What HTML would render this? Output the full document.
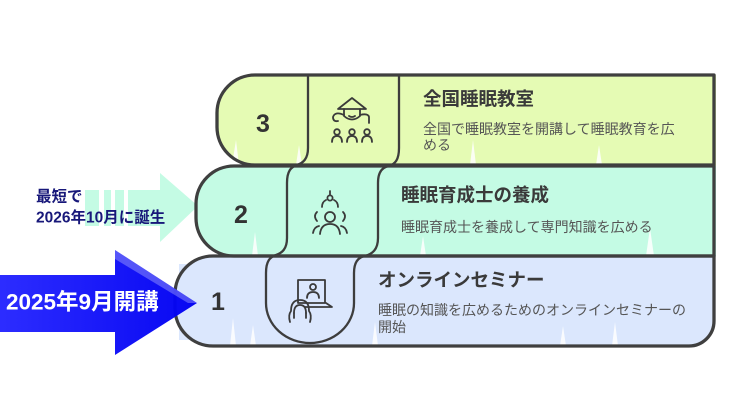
<!DOCTYPE html>
<html>
<head>
<meta charset="utf-8">
<style>
  html,body{margin:0;padding:0;background:#ffffff;}
  body{width:736px;height:414px;overflow:hidden;}
  svg{display:block;}
  .t{font-family:"Liberation Sans","Noto Sans CJK JP",sans-serif;}
</style>
</head>
<body>
<svg width="736" height="414" viewBox="0 0 736 414" xmlns="http://www.w3.org/2000/svg">
  <defs>
    <linearGradient id="bg" x1="0" y1="0" x2="1" y2="0">
      <stop offset="0" stop-color="#2626ff"/>
      <stop offset="1" stop-color="#0000f2"/>
    </linearGradient>
  </defs>

  <!-- fills -->
  <path d="M255,75 H716 V166 H255 A38,38 0 0 1 217,128 V113 A38,38 0 0 1 255,75 Z" fill="#e5fbb4"/>
  <path d="M234,166 H716 V256 H234 A38,38 0 0 1 196,218 V204 A38,38 0 0 1 234,166 Z" fill="#c4fbe4"/>
  <rect x="179" y="264" width="26" height="76" fill="#dbe7fd"/>
  <path d="M213,256 H714 V321 A25,25 0 0 1 689,346 H213 A38,38 0 0 1 175,308 V294 A38,38 0 0 1 213,256 Z" fill="#dbe7fd"/>

  <!-- sketchy white gaps -->
  <g fill="#ffffff" opacity="0.85">
    <polygon points="232,165 236,140 239,165"/>
    <polygon points="296,165 299,145 302,165"/>
    <polygon points="470,165 473,140 476,165"/>
    <polygon points="596,165 599,145 602,165"/>
    <polygon points="252,256 255,232 258,256"/>
    <polygon points="420,256 423,236 426,256"/>
    <polygon points="646,256 650,228 654,256"/>
    <polygon points="230,346 233,318 236,346"/>
    <polygon points="250,346 253,325 256,346"/>
    <polygon points="372,346 375,322 378,346"/>
    <polygon points="560,346 563,326 566,346"/>
    <polygon points="612,346 615,322 618,346"/>
  </g>

  <!-- mint arrow -->
  <g fill="#c4fbe4">
    <rect x="85" y="190" width="14" height="36"/>
    <rect x="104" y="190" width="7" height="36"/>
    <rect x="115" y="190" width="9" height="36"/>
    <rect x="128" y="190" width="34" height="36"/>
    <polygon points="160,173 198,206 160,242"/>
  </g>

  <!-- column dividers -->
  <path d="M308,76 V148 C308,159 303,163 297,165 C291,167 287,171 287,183 V238 C287,249 282,253 276,255 C270,257 266,261 266,273 V303 A44,40 0 0 0 354,303 V273 C354,261 359,257 365,256 C372,254 378,250 378,238 V183 C378,171 383,167 389,166 C395,164 399,160 399,148 V76"
        fill="none" stroke="#3d3d3d" stroke-width="2.3" stroke-linejoin="round"/>

  <!-- outlines -->
  <g fill="none" stroke="#3f3f3f" stroke-width="3.3" stroke-linejoin="round">
    <path d="M255,75 H714 V165 H255 A38,38 0 0 1 217,127 V113 A38,38 0 0 1 255,75 Z"/>
    <path d="M234,166 H714 V256 H234 A38,38 0 0 1 196,218 V204 A38,38 0 0 1 234,166 Z"/>
    <path d="M213,256 H714 V321 A25,25 0 0 1 689,346 H213 A38,38 0 0 1 175,308 V294 A38,38 0 0 1 213,256 Z"/>
  </g>

  <!-- blue arrow -->
  <polygon points="0,275 115,275 115,250 197,303 115,355 115,332 0,332" fill="url(#bg)" opacity="0.97"/>
  <polygon points="115,250 197,303 188,303 115,259" fill="#ffffff" opacity="0.28"/>

  <!-- numbers -->
  <g class="t" font-weight="bold" font-size="25" fill="#333333" text-anchor="middle" dominant-baseline="central">
    <text x="263" y="124">3</text>
    <text x="241" y="215">2</text>
    <text x="218" y="302">1</text>
  </g>

  <!-- icons -->
  <g fill="none" stroke="#3a3a3a" stroke-width="1.8" stroke-linecap="round" stroke-linejoin="round">
    <!-- icon 3 -->
    <path d="M338,109 L352,98 L366,109 Z"/>
    <path d="M344,109 V116 Q352,123 360,116 V109"/>
    <path d="M344,115 Q335,111 333,117 Q333,122 338,121"/>
    <path d="M360,115 Q368,113 369,117 V123"/>
    <path d="M349,116 Q352,118 355,116"/>
    <circle cx="337" cy="132" r="2.8"/>
    <circle cx="352" cy="132" r="2.8"/>
    <circle cx="367" cy="132" r="2.8"/>
    <path d="M332,142 Q332,136 337,136 Q342,136 342,142"/>
    <path d="M347,142 Q347,136 352,136 Q357,136 357,142"/>
    <path d="M362,142 Q362,136 367,136 Q372,136 372,142"/>
    <!-- icon 2 -->
    <path d="M330,191 V195"/>
    <circle cx="330" cy="198" r="2.6"/>
    <path d="M322,207 Q322,202 326,200"/>
    <path d="M338,207 Q338,202 334,200"/>
    <circle cx="330" cy="217" r="5"/>
    <path d="M320,234 Q321,224 330,224 Q339,224 340,234"/>
    <path d="M317,212 Q313,216 317,221"/>
    <path d="M313,233 Q314,227 319,226"/>
    <path d="M343,212 Q347,216 343,221"/>
    <path d="M347,233 Q346,227 341,226"/>
    <!-- icon 1 -->
    <rect x="298" y="280" width="27" height="23"/>
    <path d="M305,307 H332 L326,303"/>
    <circle cx="313" cy="287" r="3"/>
    <path d="M307,298 Q307,292 313,292 Q319,292 319,298"/>
    <path d="M290,322 Q288,315 291,311 Q291,300 300,300 Q309,300 309,311 Q312,315 310,322"/>
    <path d="M294,313 Q294,305 300,305 Q306,305 306,313"/>
    <path d="M294,313 V318 M306,313 V318"/>
  </g>

  <!-- block texts -->
  <g class="t" dominant-baseline="central">
    <text x="423" y="99" font-size="18.5" font-weight="bold" fill="#3a3a3a">全国睡眠教室</text>
    <text x="423" y="129" font-size="14" fill="#555555">全国で睡眠教室を開講して睡眠教育を広</text>
    <text x="423" y="145" font-size="14" fill="#555555">める</text>

    <text x="401" y="195" font-size="18.5" font-weight="bold" fill="#3a3a3a">睡眠育成士の養成</text>
    <text x="401" y="227" font-size="14" fill="#555555">睡眠育成士を養成して専門知識を広める</text>

    <text x="378" y="280" font-size="18.5" font-weight="bold" fill="#3a3a3a">オンラインセミナー</text>
    <text x="378" y="310" font-size="14" fill="#555555">睡眠の知識を広めるためのオンラインセミナーの</text>
    <text x="378" y="327" font-size="14" fill="#555555">開始</text>
  </g>

  <!-- arrow texts -->
  <g class="t" font-weight="bold" dominant-baseline="central">
    <text x="6" y="302" font-size="22.5" fill="#ffffff">2025年9月開講</text>
    <text x="36" y="197" font-size="15.5" fill="#18187a">最短で</text>
    <text x="36" y="218" font-size="15.5" fill="#18187a">2026年10月に誕生</text>
  </g>
</svg>
</body>
</html>
